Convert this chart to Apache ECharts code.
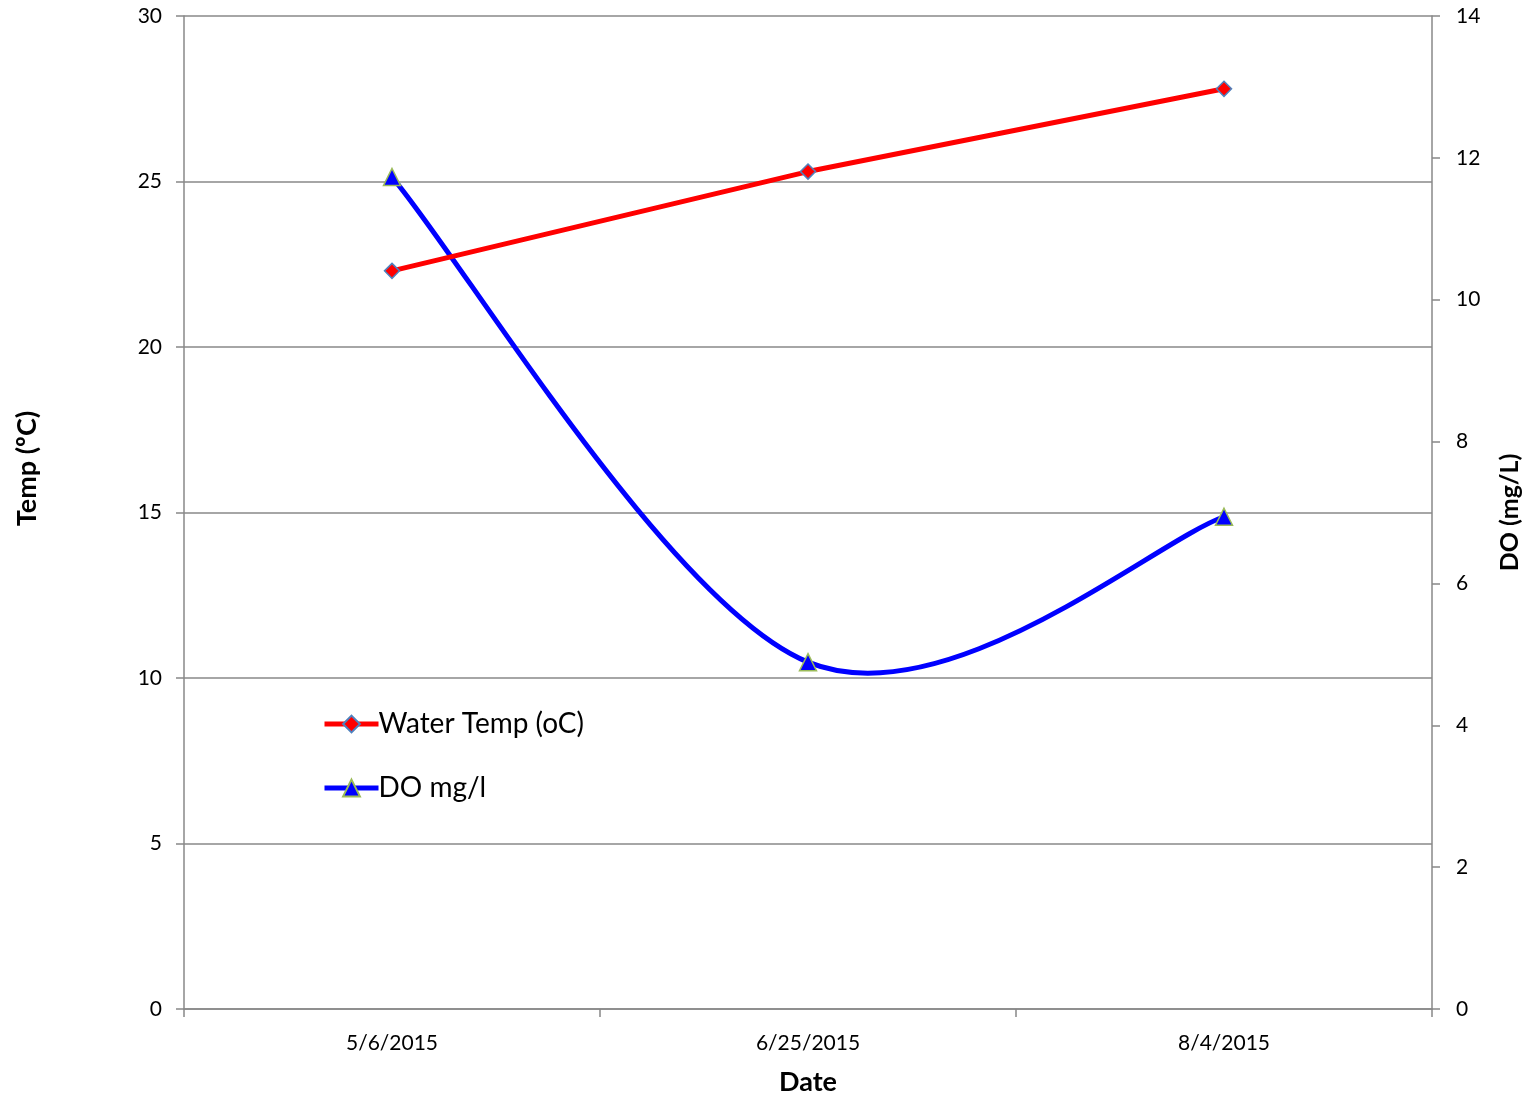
<!DOCTYPE html>
<html>
<head>
<meta charset="utf-8">
<script src="https://cdn.jsdelivr.net/npm/echarts@6/dist/echarts.min.js"></script>
<style>
html,body{margin:0;padding:0;background:#fff;overflow:hidden;}
#c{width:1528px;height:1099px;}
</style>
</head>
<body>
<div id="c"></div>
<script>
var categories = ['5/6/2015', '6/25/2015', '8/4/2015'];
var waterTemp = [22.3, 25.3, 27.8];
var doValues = [11.73, 4.89, 6.94];

var font = 'Lato, "Open Sans", sans-serif';

// Excel-style smoothed segment between data points i and i+1, through the axis scales
function renderSmoothSegment(params, api) {
  var i = params.dataIndex;
  var n = doValues.length;
  if (i >= n - 1) return { type: 'group', children: [] };
  var pt = function (k) {
    k = Math.max(0, Math.min(n - 1, k));
    return api.coord([k, doValues[k]]);
  };
  var p0 = pt(i - 1), p1 = pt(i), p2 = pt(i + 1), p3 = pt(i + 2);
  var c1 = [p1[0] + (p2[0] - p0[0]) / 6, p1[1] + (p2[1] - p0[1]) / 6];
  var c2 = [p2[0] - (p3[0] - p1[0]) / 6, p2[1] - (p3[1] - p1[1]) / 6];
  return {
    type: 'bezierCurve',
    shape: { x1: p1[0], y1: p1[1], x2: p2[0], y2: p2[1], cpx1: c1[0], cpy1: c1[1], cpx2: c2[0], cpy2: c2[1] },
    style: { stroke: '#0000ff', lineWidth: 5, fill: null, lineCap: 'round' }
  };
}

var chart = echarts.init(document.getElementById('c'), null, { width: 1528, height: 1099 });
chart.setOption({
  animation: false,
  backgroundColor: '#fff',
  textStyle: { fontFamily: font },
  grid: { left: 184, right: 96, top: 16, bottom: 90, containLabel: false, outerBoundsMode: 'none' },
  legend: {
    orient: 'vertical',
    left: 317,
    top: 705,
    itemWidth: 54,
    itemHeight: 21,
    itemGap: 36,
    textStyle: { fontSize: 28, color: '#000', fontFamily: font, padding: [0,0,0,-5] },
    lineStyle: { width: 5, opacity: 1 },
    data: ['Water Temp (oC)', 'DO mg/l']
  },
  xAxis: {
    type: 'category',
    data: categories,
    boundaryGap: true,
    name: 'Date',
    nameLocation: 'middle',
    nameGap: 60,
    nameTextStyle: { fontSize: 27, fontWeight: 'bold', color: '#000', fontFamily: font },
    axisLine: { lineStyle: { color: '#888', width: 1.5 } },
    axisTick: { show: true, length: 8, lineStyle: { color: '#888', width: 1.5 } },
    axisLabel: { fontSize: 21, color: '#000', margin: 24, fontFamily: font },
    splitLine: { show: false }
  },
  yAxis: [{
    type: 'value',
    min: 0, max: 30, interval: 5,
    position: 'left',
    name: 'Temp (ºC)',
    nameLocation: 'middle',
    nameGap: 143,
    nameRotate: 90,
    nameTextStyle: { fontSize: 27, fontWeight: 'bold', color: '#000', fontFamily: font, padding: [0, 0, 0, 88] },
    axisLine: { show: true, lineStyle: { color: '#888', width: 1.5 } },
    axisTick: { show: true, length: 8, lineStyle: { color: '#888', width: 1.5 } },
    axisLabel: { fontSize: 21, color: '#000', margin: 22, fontFamily: font },
    splitLine: { show: true, lineStyle: { color: '#888', width: 1.5 } }
  }, {
    type: 'value',
    min: 0, max: 14, interval: 2,
    position: 'right',
    name: 'DO (mg/L)',
    nameLocation: 'middle',
    nameGap: 65,
    nameRotate: 90,
    nameTextStyle: { fontSize: 25, fontWeight: 'bold', color: '#000', fontFamily: font },
    axisLine: { show: true, lineStyle: { color: '#888', width: 1.5 } },
    axisTick: { show: true, length: 8, lineStyle: { color: '#888', width: 1.5 } },
    axisLabel: { fontSize: 21, color: '#000', margin: 24, fontFamily: font },
    splitLine: { show: false }
  }],
  series: [{
    name: 'Water Temp (oC)',
    type: 'line',
    yAxisIndex: 0,
    data: waterTemp,
    symbol: 'diamond',
    symbolSize: 15,
    lineStyle: { color: '#ff0000', width: 5 },
    itemStyle: { color: '#ff0000', borderColor: '#4f81bd', borderWidth: 1.5 },
    z: 3
  }, {
    name: 'DO mg/l',
    type: 'line',
    yAxisIndex: 1,
    data: doValues,
    symbol: 'triangle',
    symbolSize: 17,
    lineStyle: { color: '#0000ff', width: 5, opacity: 0 },
    itemStyle: { color: '#0000ff', borderColor: '#9bbb59', borderWidth: 1.5 },
    z: 4
  }, {
    name: 'DO curve',
    type: 'custom',
    yAxisIndex: 1,
    silent: true,
    data: doValues.map(function (v, i) { return [i, v]; }),
    encode: { x: 0, y: 1 },
    renderItem: renderSmoothSegment,
    z: 2
  }]
});
</script>
</body>
</html>
